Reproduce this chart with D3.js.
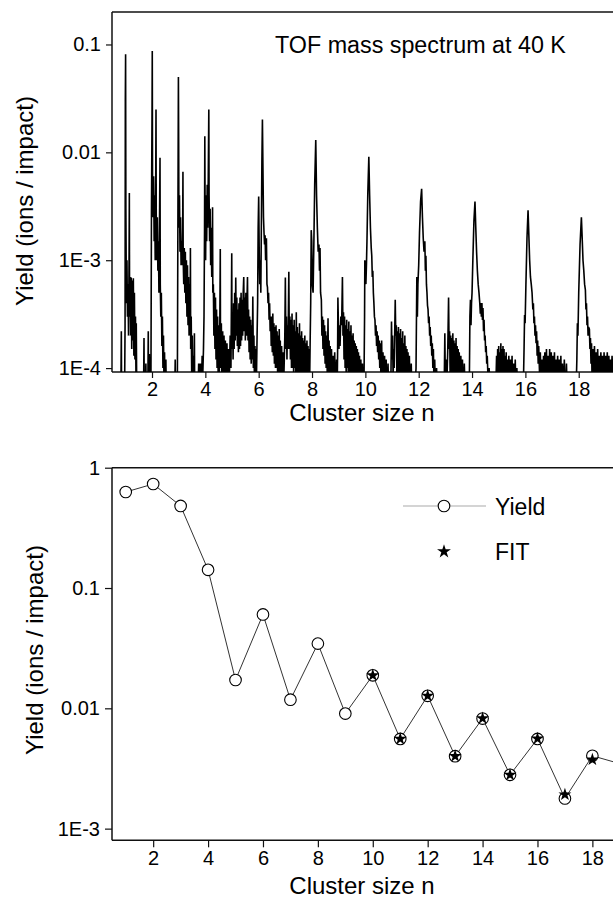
<!DOCTYPE html>
<html lang="en">
<head>
<meta charset="UTF-8">
<script src="https://d3js.org/d3.v7.min.js"></script>
<style>
  body { margin: 0; background: #fff; }
  text { font-family: "Liberation Sans", Arial, sans-serif; fill: #000; }
</style>
</head>
<body>
<div id="chart"></div>
<script>
// ---- TOF spectrum: [cluster size, yield] ----
var specN1 = [[0.5,5e-5],[0.83,5e-5],[0.85,2.2e-4],[0.86,5e-5],[0.97,5e-5],[0.99,2.5e-4],[1.0,0.03],[1.01,0.081],[1.02,3e-3],[1.04,4e-4],[1.06,1e-3],[1.08,3e-4],[1.10,6e-4],[1.12,2e-4],[1.14,1e-3],[1.15,0.0042],[1.16,3e-4],[1.18,7e-4],[1.20,2e-4],[1.22,6.9e-4],[1.24,1.5e-4],[1.26,6.5e-4],[1.28,1.8e-4],[1.30,6.8e-4],[1.32,1.3e-4],[1.34,5e-4],[1.36,1.2e-4],[1.38,3e-4],[1.40,8e-5],[1.41,2.6e-4],[1.43,5e-5]];
var specN2 = [[1.68,5e-5],[1.70,1.9e-4],[1.71,5e-5],[1.75,5e-5],[1.77,1.1e-4],[1.79,5e-5],[1.84,5e-5],[1.86,2.2e-4],[1.87,6e-5],[1.90,1.35e-4],[1.92,6e-5],[1.96,8e-5],[1.98,3e-3],[2.0,0.02],[2.01,0.087],[2.02,5e-3],[2.04,2.5e-3],[2.06,6e-3],[2.08,1.5e-3],[2.10,4e-3],[2.12,1e-3],[2.14,6e-3],[2.15,0.025],[2.16,2e-3],[2.18,1e-3],[2.20,2.5e-3],[2.22,8e-4],[2.24,1.5e-3],[2.26,5e-4],[2.28,2e-3],[2.30,0.0089],[2.31,6e-4],[2.33,3e-4],[2.35,5e-4],[2.37,1.6e-4],[2.39,3e-4],[2.41,1e-4],[2.43,2e-4],[2.45,7e-5],[2.47,1.4e-4],[2.49,6e-5],[2.52,1.2e-4],[2.54,5e-5]];
var specN3 = [[2.85,5e-5],[2.87,1.2e-4],[2.88,5e-5],[2.95,6e-5],[2.97,2e-3],[2.99,0.05],[3.0,0.012],[3.01,2e-3],[3.03,4e-3],[3.05,1.2e-3],[3.07,2.5e-3],[3.09,9e-4],[3.11,1.5e-3],[3.13,9e-4],[3.15,2e-3],[3.16,0.0066],[3.17,1e-3],[3.19,6e-4],[3.21,1.3e-3],[3.23,5e-4],[3.25,1.2e-3],[3.27,4e-4],[3.29,1e-3],[3.31,3e-4],[3.33,9e-4],[3.35,2.5e-4],[3.37,7e-4],[3.39,2e-4],[3.41,6e-4],[3.43,2e-4],[3.44,1.3e-3],[3.45,1.5e-4],[3.47,3e-4],[3.49,8e-5],[3.51,2e-4],[3.53,6e-5],[3.55,1.3e-4],[3.57,5e-5],[3.59,2.1e-4],[3.60,6e-5],[3.62,5e-5]];
var specN4 = [[3.72,5e-5],[3.75,1.1e-4],[3.77,5e-5],[3.79,1.1e-4],[3.81,5e-5],[3.83,1.1e-4],[3.85,6e-5],[3.88,1.3e-4],[3.90,8e-5],[3.93,1.5e-4],[3.95,3e-4],[3.97,2e-3],[3.98,0.0141],[3.99,3e-3],[4.01,1e-3],[4.03,4e-3],[4.05,1.5e-3],[4.07,5e-3],[4.09,2e-3],[4.11,6e-3],[4.13,0.0249],[4.14,4e-3],[4.16,1.5e-3],[4.18,3e-3],[4.20,9e-4],[4.22,2e-3],[4.24,7e-4],[4.26,1.5e-3],[4.27,3.1e-3],[4.28,5e-4],[4.30,6e-4],[4.32,2e-4],[4.34,5e-4],[4.36,1.5e-4],[4.38,4.5e-4],[4.40,1.2e-4],[4.42,3.5e-4],[4.44,1e-4],[4.46,3e-4],[4.48,9e-5],[4.50,2.5e-4],[4.52,8e-5],[4.54,2e-4],[4.56,1.27e-3],[4.57,1e-4],[4.60,2.6e-4],[4.62,7e-5],[4.65,2.2e-4],[4.67,6e-5],[4.70,2e-4],[4.72,6e-5],[4.75,1.8e-4],[4.78,6e-5],[4.81,1.7e-4],[4.84,6e-5],[4.87,1.5e-4],[4.90,8e-5],[4.93,2e-4],[4.96,1e-4],[4.99,1.16e-3],[5.00,1.5e-4]];
var specN5 = [[5.02,3e-4],[5.04,1.2e-4],[5.06,4e-4],[5.08,1.5e-4],[5.10,5e-4],[5.12,1.8e-4],[5.14,6.9e-4],[5.16,2e-4],[5.18,4.5e-4],[5.20,1.6e-4],[5.22,3.5e-4],[5.24,1.4e-4],[5.26,4e-4],[5.28,1.5e-4],[5.30,4.5e-4],[5.32,1.6e-4],[5.34,5e-4],[5.36,1.8e-4],[5.38,4.3e-4],[5.40,2e-4],[5.42,5e-4],[5.44,7e-4],[5.46,2.2e-4],[5.48,4.5e-4],[5.50,1.8e-4],[5.52,5e-4],[5.54,2e-4],[5.56,4e-4],[5.58,7e-4],[5.60,1.8e-4],[5.62,3.5e-4],[5.64,1.4e-4],[5.66,3e-4],[5.68,1.2e-4],[5.70,2.8e-4],[5.72,1.1e-4],[5.74,2.5e-4],[5.76,1.2e-4],[5.78,4.6e-4],[5.80,1e-4],[5.82,2e-4],[5.84,8e-5],[5.86,1.6e-4],[5.88,7e-5],[5.90,1.5e-4],[5.92,9e-5],[5.94,2e-4],[5.96,4e-4]];
var specN6 = [[5.98,2e-3],[6.00,3.9e-3],[6.02,1.2e-3],[6.04,6e-4],[6.06,1e-3],[6.08,5e-4],[6.10,2e-3],[6.12,8e-3],[6.14,0.0202],[6.16,7e-3],[6.18,2.5e-3],[6.20,1.8e-3],[6.22,1.4e-3],[6.24,1.7e-3],[6.26,1e-3],[6.29,1.6e-3],[6.31,6e-4],[6.33,5.6e-4],[6.35,4e-4],[6.37,5e-4],[6.39,2.8e-4],[6.41,4e-4],[6.43,2.2e-4],[6.45,3e-4],[6.47,1.6e-4],[6.49,3e-4],[6.51,1.4e-4],[6.53,3.2e-4],[6.55,1.3e-4],[6.57,2.6e-4],[6.59,1.1e-4],[6.61,2.4e-4],[6.63,1e-4],[6.65,2.5e-4],[6.67,1e-4],[6.69,2.2e-4],[6.71,9e-5],[6.73,2e-4],[6.75,8e-5],[6.77,2.3e-4],[6.79,9e-5],[6.81,1.8e-4],[6.83,7e-5],[6.86,1.6e-4],[6.88,7e-5],[6.91,1.4e-4],[6.93,6e-5],[6.96,1.2e-4],[6.98,2e-4]];
var specN7 = [[7.00,6.9e-4],[7.02,1.5e-4],[7.04,3e-4],[7.06,1.2e-4],[7.08,2.5e-4],[7.10,1.5e-4],[7.13,7.8e-4],[7.15,1.5e-4],[7.17,3e-4],[7.19,1.2e-4],[7.21,2.8e-4],[7.23,1e-4],[7.25,3.2e-4],[7.27,1e-4],[7.29,2.5e-4],[7.31,9e-5],[7.33,2.8e-4],[7.35,1e-4],[7.37,2.2e-4],[7.39,8e-5],[7.41,3.3e-4],[7.43,9e-5],[7.45,2.4e-4],[7.47,8e-5],[7.49,2.1e-4],[7.51,7e-5],[7.53,2.6e-4],[7.55,8e-5],[7.57,2e-4],[7.59,7e-5],[7.61,2.2e-4],[7.63,7e-5],[7.65,1.9e-4],[7.67,7e-5],[7.69,1.8e-4],[7.71,6e-5],[7.73,2e-4],[7.75,7e-5],[7.77,1.7e-4],[7.79,6e-5],[7.81,1.8e-4],[7.83,6e-5],[7.85,1.6e-4],[7.87,6e-5],[7.89,1.5e-4],[7.91,7e-5],[7.93,1.8e-4]];
var specN8 = [[7.95,4e-4],[7.97,1.9e-3],[7.99,1.5e-3],[8.01,6e-4],[8.04,5e-4],[8.07,1.5e-3],[8.10,5e-3],[8.14,0.013],[8.17,4e-3],[8.20,2e-3],[8.23,1.2e-3],[8.26,1.4e-3],[8.28,8e-4],[8.30,1.3e-3],[8.32,5e-4],[8.35,4.3e-4],[8.37,2e-4],[8.39,3e-4],[8.41,1.5e-4],[8.43,2.8e-4],[8.45,1.3e-4],[8.47,2.5e-4],[8.49,1.1e-4],[8.51,2.2e-4],[8.53,1e-4],[8.55,2e-4],[8.57,9e-5],[8.60,2.9e-4],[8.62,8e-5],[8.64,1.8e-4],[8.66,7e-5],[8.68,1.6e-4],[8.70,6e-5],[8.73,1.5e-4],[8.76,6e-5],[8.79,1.3e-4],[8.82,5e-5],[8.85,1.4e-4],[8.88,5e-5],[8.92,1.2e-4],[8.94,5e-5]];
var specN9 = [[8.96,1.5e-4],[8.97,4.5e-4],[8.99,2.5e-4],[9.01,1.5e-4],[9.03,2.5e-4],[9.05,1.6e-4],[9.08,3e-4],[9.11,2.5e-4],[9.14,7e-4],[9.16,2e-4],[9.18,3.3e-4],[9.20,1.2e-4],[9.22,3e-4],[9.24,1e-4],[9.26,2.5e-4],[9.28,9e-5],[9.30,2.8e-4],[9.32,1e-4],[9.34,2.3e-4],[9.36,8e-5],[9.38,2.7e-4],[9.40,9e-5],[9.42,2.2e-4],[9.44,7e-5],[9.46,2.5e-4],[9.48,8e-5],[9.50,2e-4],[9.52,7e-5],[9.54,2.1e-4],[9.56,6e-5],[9.58,1.8e-4],[9.60,7e-5],[9.62,1.7e-4],[9.64,6e-5],[9.66,1.6e-4],[9.68,6e-5],[9.70,1.5e-4],[9.72,5e-5],[9.74,1.4e-4],[9.76,5e-5],[9.78,1.3e-4],[9.80,5e-5],[9.83,1.2e-4],[9.86,5e-5],[9.89,1.1e-4],[9.92,5e-5],[9.95,8e-5]];
var specN10 = [[9.97,3e-4],[9.98,1e-3],[10.00,8e-4],[10.02,6e-4],[10.04,9e-4],[10.06,1.5e-3],[10.09,4e-3],[10.13,9.1e-3],[10.16,4e-3],[10.19,2e-3],[10.22,1.3e-3],[10.24,1.1e-3],[10.26,7e-4],[10.28,8e-4],[10.30,5e-4],[10.32,4e-4],[10.34,3e-4],[10.36,2.8e-4],[10.38,2e-4],[10.40,2.5e-4],[10.42,1.6e-4],[10.44,2.2e-4],[10.46,1.4e-4],[10.48,2e-4],[10.50,1.2e-4],[10.52,1.8e-4],[10.54,1e-4],[10.56,1.7e-4],[10.58,9e-5],[10.61,1.8e-4],[10.63,8e-5],[10.66,1.4e-4],[10.69,7e-5],[10.72,1.3e-4],[10.75,6e-5],[10.78,1.2e-4],[10.81,5e-5],[10.85,1.1e-4],[10.88,5e-5],[10.92,9e-5],[10.95,5e-5]];
var specN11 = [[10.98,2.7e-4],[11.00,1.2e-4],[11.02,2e-4],[11.04,8e-5],[11.06,1.5e-4],[11.08,1e-4],[11.12,4.3e-4],[11.14,2e-4],[11.16,2.5e-4],[11.18,9e-5],[11.20,2.2e-4],[11.22,8e-5],[11.24,2.4e-4],[11.26,8e-5],[11.28,2.1e-4],[11.30,7e-5],[11.32,2.3e-4],[11.34,7e-5],[11.36,1.9e-4],[11.38,6e-5],[11.40,2.2e-4],[11.42,6e-5],[11.44,1.7e-4],[11.46,6e-5],[11.48,2e-4],[11.50,6e-5],[11.52,1.6e-4],[11.54,5e-5],[11.56,1.5e-4],[11.58,5e-5],[11.60,1.4e-4],[11.62,5e-5],[11.65,1.3e-4],[11.68,5e-5],[11.72,1.1e-4],[11.75,5e-5],[11.80,9e-5],[11.84,5e-5]];
var specN12 = [[11.90,1e-4],[11.93,7e-4],[11.95,3e-4],[11.97,6e-4],[12.00,9e-4],[12.03,1.8e-3],[12.07,3.5e-3],[12.11,4.6e-3],[12.14,2.5e-3],[12.17,1.6e-3],[12.20,1.2e-3],[12.23,1.5e-3],[12.25,8e-4],[12.27,1.1e-3],[12.29,6e-4],[12.31,5e-4],[12.33,3.8e-4],[12.35,3.5e-4],[12.37,2.6e-4],[12.39,3e-4],[12.41,2e-4],[12.43,2.4e-4],[12.45,1.6e-4],[12.47,2e-4],[12.49,1.3e-4],[12.51,1.7e-4],[12.53,1e-4],[12.55,1.5e-4],[12.57,8e-5],[12.60,1.2e-4],[12.63,6e-5],[12.67,1e-4],[12.70,5e-5],[12.75,8e-5],[12.80,5e-5],[12.86,7e-5],[12.90,5e-5]];
var specN13 = [[12.96,8e-5],[12.98,2.1e-4],[13.00,7e-5],[13.03,1.2e-4],[13.06,8e-5],[13.09,1.5e-4],[13.12,4.5e-4],[13.14,1.5e-4],[13.16,2.2e-4],[13.18,8e-5],[13.20,2e-4],[13.22,7e-5],[13.24,1.9e-4],[13.26,7e-5],[13.28,2.1e-4],[13.30,6e-5],[13.32,1.8e-4],[13.34,6e-5],[13.36,1.7e-4],[13.38,6e-5],[13.40,1.9e-4],[13.42,5e-5],[13.44,1.6e-4],[13.46,6e-5],[13.48,1.5e-4],[13.50,5e-5],[13.52,1.4e-4],[13.55,5e-5],[13.58,1.3e-4],[13.61,5e-5],[13.64,1.2e-4],[13.67,5e-5],[13.71,1.1e-4],[13.75,5e-5],[13.80,9e-5],[13.85,5e-5]];
var specN14 = [[13.90,8e-5],[13.92,3e-4],[13.94,4.3e-4],[13.96,2.5e-4],[13.98,4e-4],[14.00,5e-4],[14.03,1e-3],[14.07,2.3e-3],[14.11,3.5e-3],[14.14,2e-3],[14.17,1.2e-3],[14.20,8e-4],[14.23,6e-4],[14.26,5e-4],[14.29,4e-4],[14.31,3.2e-4],[14.33,4e-4],[14.35,3e-4],[14.37,4e-4],[14.39,2.8e-4],[14.41,3.6e-4],[14.43,2.2e-4],[14.45,2.8e-4],[14.47,1.8e-4],[14.49,2e-4],[14.51,1.4e-4],[14.53,1.6e-4],[14.55,1.1e-4],[14.57,1.3e-4],[14.60,8e-5],[14.64,1e-4],[14.68,6e-5],[14.72,8e-5],[14.76,5e-5],[14.82,6e-5],[14.88,5e-5]];
var specN15 = [[14.92,1.3e-4],[14.94,6e-5],[14.96,1.5e-4],[14.98,7e-5],[15.00,1.6e-4],[15.02,6e-5],[15.04,1.4e-4],[15.06,7e-5],[15.08,1.7e-4],[15.10,6e-5],[15.12,1.5e-4],[15.14,7e-5],[15.16,1.6e-4],[15.18,6e-5],[15.20,1.5e-4],[15.22,6e-5],[15.24,1.3e-4],[15.26,6e-5],[15.28,1.4e-4],[15.30,5e-5],[15.32,1.2e-4],[15.35,6e-5],[15.38,1.3e-4],[15.41,5e-5],[15.44,1.2e-4],[15.47,5e-5],[15.50,1.3e-4],[15.53,5e-5],[15.56,1.1e-4],[15.59,5e-5],[15.62,1.2e-4],[15.65,5e-5],[15.68,1e-4],[15.72,5e-5],[15.80,6e-5],[15.88,5e-5]];
var specN16 = [[15.92,6e-5],[15.95,1.5e-4],[15.97,3.1e-4],[15.99,2.6e-4],[16.02,6e-4],[16.06,1.6e-3],[16.10,2.9e-3],[16.13,1.7e-3],[16.16,1e-3],[16.19,7e-4],[16.22,6e-4],[16.25,5e-4],[16.28,3.5e-4],[16.30,4e-4],[16.32,2.6e-4],[16.34,3e-4],[16.36,2e-4],[16.38,2.5e-4],[16.40,1.7e-4],[16.42,2.2e-4],[16.44,1.3e-4],[16.46,1.8e-4],[16.48,1.1e-4],[16.50,1.6e-4],[16.53,9e-5],[16.56,1.4e-4],[16.59,7e-5],[16.62,1.2e-4],[16.65,6e-5]];
var specN17 = [[16.68,1.3e-4],[16.70,6e-5],[16.73,1.4e-4],[16.76,6e-5],[16.79,1.5e-4],[16.82,6e-5],[16.85,1.3e-4],[16.88,6e-5],[16.91,1.5e-4],[16.94,6e-5],[16.97,1.4e-4],[17.00,6e-5],[17.03,1.3e-4],[17.06,6e-5],[17.09,1.4e-4],[17.12,5e-5],[17.15,1.2e-4],[17.18,6e-5],[17.21,1.3e-4],[17.24,5e-5],[17.27,1.2e-4],[17.30,5e-5],[17.33,1.3e-4],[17.36,5e-5],[17.39,1.1e-4],[17.42,5e-5],[17.46,1.2e-4],[17.50,5e-5],[17.54,1.1e-4],[17.58,5e-5],[17.63,9e-5],[17.70,5e-5],[17.78,7e-5],[17.84,5e-5]];
var specN18 = [[17.90,6e-5],[17.93,1.2e-4],[17.95,2.6e-4],[17.97,2e-4],[18.00,5e-4],[18.05,1.4e-3],[18.10,2.5e-3],[18.13,1.6e-3],[18.16,1e-3],[18.19,8e-4],[18.22,6e-4],[18.25,5.3e-4],[18.27,3.5e-4],[18.29,4e-4],[18.31,2.5e-4],[18.33,3e-4],[18.35,2e-4],[18.37,2.4e-4],[18.40,2.3e-4],[18.42,1.5e-4],[18.44,1.9e-4],[18.46,1.1e-4],[18.48,1.7e-4],[18.50,8e-5],[18.53,1.5e-4],[18.56,7e-5],[18.59,1.6e-4],[18.62,7e-5],[18.65,1.4e-4],[18.68,7e-5],[18.71,1.5e-4],[18.74,7e-5],[18.77,1.3e-4],[18.80,6e-5],[18.83,1.4e-4],[18.86,7e-5],[18.89,1.3e-4],[18.92,6e-5],[18.95,1.4e-4],[18.98,7e-5],[19.01,1.3e-4],[19.04,7e-5],[19.07,1.4e-4],[19.10,8e-5],[19.13,1.3e-4],[19.16,7e-5],[19.19,1.2e-4],[19.22,8e-5],[19.25,1.3e-4],[19.28,8e-5],[19.31,1.2e-4],[19.35,8e-5]];

// ---- yield per cluster size and fit ----
var sizes = [1,2,3,4,5,6,7,8,9,10,11,12,13,14,15,16,17,18,19];
var yieldVals = [0.628,0.732,0.481,0.1416,0.0172,0.0603,0.0118,0.0345,0.00904,0.0188,0.00557,0.0127,0.0040,0.00822,0.0028,0.00557,0.00178,0.00403,0.00347];
var fitSizes = [10,11,12,13,14,15,16,17,18];
var fitVals = [0.0188,0.00557,0.0127,0.0040,0.00825,0.0028,0.0056,0.00192,0.00375];

// ---- ticks ----
var xMajor = [2,4,6,8,10,12,14,16,18];
var xMinor = [1,3,5,7,9,11,13,15,17,19];
var topYTicks = [0.1,0.01,1e-3,1e-4];
var topYLabels = ["0.1","0.01","1E-3","1E-4"];
var botYTicks = [1,0.1,0.01,1e-3];
var botYLabels = ["1","0.1","0.01","1E-3"];

var W = 613, H = 899;
var svg = d3.select("#chart").append("svg").attr("width", W).attr("height", H);

function minorLog(lo, hi) {
    var out = [];
    for (var e = -5; e <= 0; e++) {
        for (var m = 2; m <= 9; m++) {
            var v = m * Math.pow(10, e);
            if (v >= lo * 0.999 && v <= hi * 1.001) out.push(v);
        }
    }
    return out;
}

function drawPanel(opt) {
    var g = svg.append("g");
    var x = opt.x, y = opt.y;
    var L = x.range()[0], T = y.range()[1], B = y.range()[0];

    g.append("clipPath").attr("id", opt.id)
        .append("rect").attr("x", L).attr("y", T).attr("width", W - L).attr("height", B - T);

    // frame: top border
    g.append("line").attr("x1", L).attr("x2", W).attr("y1", T).attr("y2", T)
        .attr("stroke", "#111").attr("stroke-width", 1.5);

    // x axis
    var xa = g.append("g").attr("transform", "translate(0," + B + ")");
    xa.call(d3.axisBottom(x).tickValues(xMinor).tickSize(opt.minorLen).tickFormat(""));
    xa.call(d3.axisBottom(x).tickValues(xMajor).tickSize(opt.majorLen).tickSizeOuter(0).tickPadding(4));
    xa.select(".domain").attr("d", "M" + L + ",0H" + W);

    // y axis
    var ya = g.append("g").attr("transform", "translate(" + L + ",0)");
    ya.call(d3.axisLeft(y).tickValues(minorLog(y.domain()[0], y.domain()[1])).tickSize(opt.minorLen).tickFormat(""));
    ya.call(d3.axisLeft(y).tickValues(opt.yTicks).tickSize(opt.majorLen).tickSizeOuter(0).tickPadding(5)
        .tickFormat(function(d, i) { return opt.yLabels[i]; }));
    ya.select(".domain").attr("d", "M0," + T + "V" + B);

    g.selectAll(".domain").attr("stroke", "#111").attr("stroke-width", 1.5);
    g.selectAll(".tick line").attr("stroke", "#111").attr("stroke-width", 1.2);
    g.selectAll(".tick text").attr("font-size", 20).attr("fill", "#000")
        .attr("font-family", "Liberation Sans, Arial, sans-serif");
    xa.selectAll(".tick text").attr("dy", "0.7em");

    // axis titles
    g.append("text").attr("x", 362).attr("y", opt.xTitleY).attr("text-anchor", "middle")
        .attr("font-size", 24).text("Cluster size n");
    g.append("text").attr("transform", "translate(" + opt.yTitleX + "," + opt.yTitleC + ") rotate(-90)")
        .attr("text-anchor", "middle").attr("font-size", 24).text("Yield (ions / impact)");
    return g;
}

// ---- top panel: TOF spectrum ----
var xTop = d3.scaleLinear().domain([0.5, 20.5]).range([112, 112 + 20 * 26.67]);
var yTop = d3.scaleLog().domain([9.2e-5, 0.2]).range([372, 12]);
var gTop = drawPanel({id: "clipTop", x: xTop, y: yTop, yTicks: topYTicks, yLabels: topYLabels,
    majorLen: 6, minorLen: 3.5, xTitleY: 421, yTitleX: 33, yTitleC: 201});

var spectrum = [].concat(specN1, specN2, specN3, specN4, specN5, specN6, specN7, specN8, specN9,
    specN10, specN11, specN12, specN13, specN14, specN15, specN16, specN17, specN18);

var specLine = d3.line()
    .x(function(d) { return xTop(d[0]); })
    .y(function(d) { return yTop(d[1]); });

gTop.append("path").datum(spectrum)
    .attr("clip-path", "url(#clipTop)")
    .attr("d", specLine)
    .attr("fill", "none").attr("stroke", "#000").attr("stroke-width", 1.6)
    .attr("stroke-linejoin", "miter");

gTop.append("text").attr("x", 275).attr("y", 53).attr("font-size", 23.3)
    .text("TOF mass spectrum at 40 K");

// ---- bottom panel: yield vs cluster size ----
var xBot = d3.scaleLinear().domain([0.5, 20.5]).range([112, 112 + 20 * 27.45]);
var yBot = d3.scaleLog().domain([8e-4, 1]).range([840.3, 467.7]);
var gBot = drawPanel({id: "clipBot", x: xBot, y: yBot, yTicks: botYTicks, yLabels: botYLabels,
    majorLen: 7, minorLen: 4, xTitleY: 894, yTitleX: 43, yTitleC: 650});

var yieldData = sizes.map(function(n, i) { return [n, yieldVals[i]]; });
var fitData = fitSizes.map(function(n, i) { return [n, fitVals[i]]; });

var yLine = d3.line()
    .x(function(d) { return xBot(d[0]); })
    .y(function(d) { return yBot(d[1]); });

gBot.append("path").datum(yieldData)
    .attr("d", yLine).attr("fill", "none").attr("stroke", "#333").attr("stroke-width", 1);

gBot.selectAll("circle.pt").data(yieldData).enter().append("circle")
    .attr("class", "pt")
    .attr("cx", function(d) { return xBot(d[0]); })
    .attr("cy", function(d) { return yBot(d[1]); })
    .attr("r", 5.8).attr("fill", "#fff").attr("stroke", "#000").attr("stroke-width", 1.1);

var star = d3.symbol().type(d3.symbolStar).size(52);
gBot.selectAll("path.star").data(fitData).enter().append("path")
    .attr("class", "star")
    .attr("transform", function(d) { return "translate(" + xBot(d[0]) + "," + yBot(d[1]) + ")"; })
    .attr("d", star).attr("fill", "#000");

// legend
var lg = gBot.append("g");
lg.append("line").attr("x1", 403).attr("x2", 486).attr("y1", 506).attr("y2", 506)
    .attr("stroke", "#aaa").attr("stroke-width", 1.2);
lg.append("circle").attr("cx", 444).attr("cy", 506).attr("r", 5.8)
    .attr("fill", "#fff").attr("stroke", "#000").attr("stroke-width", 1.1);
lg.append("text").attr("x", 495).attr("y", 515).attr("font-size", 23).text("Yield");
lg.append("path").attr("transform", "translate(444,551.5)")
    .attr("d", d3.symbol().type(d3.symbolStar).size(60)).attr("fill", "#000");
lg.append("text").attr("x", 495).attr("y", 560).attr("font-size", 23).text("FIT");
</script>
</body>
</html>
